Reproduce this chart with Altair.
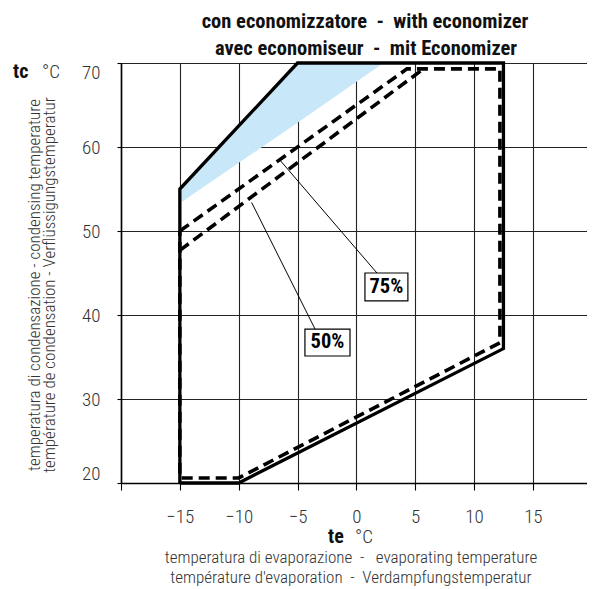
import altair as alt
import pandas as pd

# ---------------- data ----------------
# full envelope (solid)
solid_te = [-15, -15, -5, 12.5, 12.5, -10, -15]
solid_tc = [20, 55, 70, 70, 36, 20, 20]

# light-blue band (upper / lower boundary)
blue_te = [-15, -5, 2.3]
blue_hi = [55, 70, 70]
blue_lo = [53.3, 62.9, 70]

# 75% envelope (dashed)
env75_te = [-15, 4.3, 12.2, 12.2, -10, -15, -15]
env75_tc = [50, 69.3, 69.3, 36.7, 20.6, 20.6, 50]

# 50% diagonal (dashed)
env50_te = [-15, 5.7]
env50_tc = [47.7, 69.3]

# leader lines
lead_names = ["75%", "75%", "50%", "50%"]
lead_te = [-6.5, 1.75, -8.9, -3.5]
lead_tc = [58.45, 45.0, 53.4, 38.3]

# label boxes
box_text = ["75%", "50%"]
box_te1 = [0.73, -4.37]
box_te2 = [4.38, -0.54]
box_tc1 = [45.0, 38.33]
box_tc2 = [41.67, 35.12]
box_cte = [2.55, -2.45]
box_ctc = [43.33, 36.73]

x_ticks = [-20, -15, -10, -5, 0, 5, 10, 15]
y_ticks = [20, 30, 40, 50, 60, 70]

NB = "\u00a0"
title_lines = ["con economizzatore" + NB * 2 + "-" + NB * 2 + "with economizer",
               "avec economiseur" + NB * 2 + "-" + NB * 2 + "mit Economizer"]
y_title_lines = ["temperatura di condensazione - condensing temperature",
                 "température de condensation - Verflüssigungstemperatur"]
x_title_lines = ["temperatura di evaporazione" + NB * 2 + "-" + NB * 3 + "evaporating temperature",
                 "température d'evaporation" + NB * 2 + "-" + NB * 2 + "Verdampfungstemperatur"]

FONT = "Roboto Condensed, Roboto, sans-serif"
W, H = 466, 420

xs = alt.Scale(domain=[-20, 19.6], nice=False, zero=False)
ys = alt.Scale(domain=[20, 70], nice=False, zero=False)

# ---------------- layers ----------------
base_axes = alt.Chart(pd.DataFrame({"te": [-20], "tc": [20]})).mark_point(opacity=0).encode(
    x=alt.X("te:Q", scale=xs, axis=alt.Axis(
        values=x_ticks, labelExpr="datum.value == -20 ? '' : datum.label",
        grid=True, gridColor="#222", gridWidth=1.1, domainColor="#000", domainWidth=1.6,
        tickColor="#000", tickSize=7, tickWidth=1.1, labelPadding=17, labelFont=FONT,
        labelFontSize=19, labelFontWeight=300, labelColor="#333", title=None)),
    y=alt.Y("tc:Q", scale=ys, axis=alt.Axis(
        values=y_ticks, grid=True, gridColor="#222", gridWidth=1.1, domainColor="#000",
        domainWidth=1.6, tickColor="#000", tickSize=4, tickWidth=1.1, labelPadding=17,
        labelFlush=True, labelFont=FONT, labelFontSize=19, labelFontWeight=300,
        labelColor="#333", title=None)),
)

blue = alt.Chart(pd.DataFrame({"te": blue_te, "hi": blue_hi, "lo": blue_lo})).mark_area(
    color="#c8e7f8", opacity=1).encode(
    x=alt.X("te:Q", scale=xs), y=alt.Y("hi:Q", scale=ys), y2="lo:Q")

solid = alt.Chart(pd.DataFrame({"te": solid_te, "tc": solid_tc, "o": list(range(len(solid_te)))})).mark_line(
    color="#000", strokeWidth=3.3, strokeJoin="miter").encode(
    x=alt.X("te:Q", scale=xs), y=alt.Y("tc:Q", scale=ys), order="o:Q")

d75 = alt.Chart(pd.DataFrame({"te": env75_te, "tc": env75_tc, "o": list(range(len(env75_te)))})).mark_line(
    color="#000", strokeWidth=3.6, strokeDash=[11, 6]).encode(
    x=alt.X("te:Q", scale=xs), y=alt.Y("tc:Q", scale=ys), order="o:Q")

d50 = alt.Chart(pd.DataFrame({"te": env50_te, "tc": env50_tc, "o": [0, 1]})).mark_line(
    color="#000", strokeWidth=3.6, strokeDash=[11, 6]).encode(
    x=alt.X("te:Q", scale=xs), y=alt.Y("tc:Q", scale=ys), order="o:Q")

leads = alt.Chart(pd.DataFrame({"n": lead_names, "te": lead_te, "tc": lead_tc})).mark_line(
    color="#000", strokeWidth=1).encode(
    x=alt.X("te:Q", scale=xs), y=alt.Y("tc:Q", scale=ys), detail="n:N")

boxes = alt.Chart(pd.DataFrame({"t": box_text, "x1": box_te1, "x2": box_te2,
                                "y1": box_tc1, "y2": box_tc2})).mark_rect(
    fill="white", stroke="#000", strokeWidth=1.2).encode(
    x=alt.X("x1:Q", scale=xs), x2="x2:Q", y=alt.Y("y1:Q", scale=ys), y2="y2:Q")

box_labels = alt.Chart(pd.DataFrame({"t": box_text, "te": box_cte, "tc": box_ctc})).mark_text(
    font=FONT, fontSize=20.5, fontWeight="bold", color="#000", baseline="middle", align="center").encode(
    x=alt.X("te:Q", scale=xs), y=alt.Y("tc:Q", scale=ys), text="t:N")


def txt(s, x, y, size=17, weight=300, angle=0, align="center", color="#222",
        baseline="alphabetic", line_height=None):
    kw = dict(font=FONT, fontSize=size, fontWeight=weight, angle=angle, align=align,
              baseline=baseline, color=color, lineBreak="\n")
    if line_height is not None:
        kw["lineHeight"] = line_height
    return alt.Chart(pd.DataFrame({"t": [s]})).mark_text(**kw).encode(
        text="t:N", x=alt.value(x), y=alt.value(y))


texts = [
    txt(title_lines[0], 244, -35, size=20.5, weight="bold", color="#111"),
    txt(title_lines[1], 245, -8, size=20.5, weight="bold", color="#111"),
    txt("tc", -108, 15, size=20, weight="bold", align="left", color="#111"),
    txt("°C", -79, 15, size=19, align="left", color="#333"),
    txt("\n".join(y_title_lines), -86.5, 222, size=17, angle=270, baseline="middle",
        color="#333", line_height=15),
    txt("te", 207, 480, size=20, weight="bold", align="left", color="#111"),
    txt("°C", 234, 480, size=19, align="left", color="#333"),
    txt("\n".join(x_title_lines), 230, 500, size=17, color="#333", line_height=20.2),
]

chart = alt.layer(base_axes, blue, solid, d75, d50, leads, boxes, box_labels, *texts).properties(
    width=W, height=H,
    autosize=alt.AutoSizeParams(type="none"),
    padding={"left": 113, "top": 55, "right": 0, "bottom": 104},
).configure_view(strokeWidth=0).configure(background="white")

chart.save("out.html", embed_options={"renderer": "svg", "actions": False})
